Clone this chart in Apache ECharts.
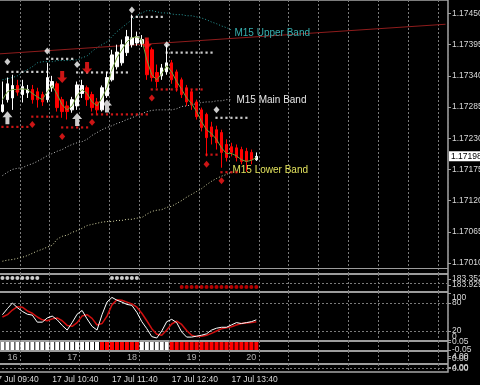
<!DOCTYPE html>
<html><head><meta charset="utf-8">
<script src="https://cdn.jsdelivr.net/npm/echarts@6/dist/echarts.min.js"></script>
<style>html,body{margin:0;padding:0;background:#000;}#c{width:480px;height:385px;}</style>
</head><body><div id="c"></div>
<script>
// ---------- data ----------
const FIRST = 2;            // slot index of first bar (17 Jul 09:50)
const SLOTS = 92;           // 5-minute slots on the time axis (incl. chart shift)
const slotTimes = [];
for (let k = 0; k < SLOTS; k++) {
  const m = 9 * 60 + 40 + 5 * k;
  slotTimes.push('17 Jul ' + String(Math.floor(m / 60)).padStart(2, '0') + ':' + String(m % 60).padStart(2, '0'));
}
const xTickLabels = ['17 Jul 09:40', '17 Jul 10:40', '17 Jul 11:40', '17 Jul 12:40', '17 Jul 13:40'];
const priceTicks = [1.17010, 1.17065, 1.17120, 1.17175, 1.17230, 1.17285, 1.17340, 1.17395, 1.17450];
const lastPrice = 1.17198;

// candles: [open, close, low, high]
const candles = [
[1.17277,1.17289,1.17275,1.17330],[1.17298,1.17326,1.17293,1.17337],[1.17301,1.17323,1.17280,1.17342],
[1.17323,1.17312,1.17305,1.17333],[1.17307,1.17321,1.17293,1.17333],[1.17310,1.17316,1.17301,1.17324],
[1.17316,1.17298,1.17291,1.17324],[1.17312,1.17298,1.17284,1.17319],[1.17307,1.17294,1.17287,1.17312],
[1.17298,1.17337,1.17293,1.17363],[1.17319,1.17330,1.17312,1.17340],[1.17326,1.17284,1.17277,1.17330],
[1.17298,1.17277,1.17266,1.17303],[1.17287,1.17277,1.17263,1.17295],[1.17280,1.17298,1.17275,1.17303],
[1.17287,1.17324,1.17280,1.17330],[1.17309,1.17323,1.17301,1.17333],[1.17319,1.17298,1.17287,1.17323],
[1.17307,1.17284,1.17277,1.17312],[1.17294,1.17280,1.17273,1.17301],[1.17280,1.17319,1.17277,1.17323],
[1.17305,1.17337,1.17301,1.17347],[1.17333,1.17377,1.17330,1.17386],[1.17356,1.17382,1.17351,1.17395],
[1.17363,1.17395,1.17358,1.17404],[1.17381,1.17409,1.17375,1.17421],[1.17395,1.17407,1.17390,1.17448],
[1.17398,1.17409,1.17393,1.17418],[1.17397,1.17404,1.17391,1.17412],[1.17400,1.17342,1.17333,1.17404],
[1.17386,1.17337,1.17330,1.17390],[1.17346,1.17330,1.17319,1.17360],[1.17340,1.17354,1.17333,1.17361],
[1.17347,1.17363,1.17342,1.17395],[1.17363,1.17333,1.17326,1.17368],[1.17347,1.17319,1.17312,1.17351],
[1.17333,1.17307,1.17301,1.17337],[1.17319,1.17294,1.17287,1.17324],[1.17312,1.17289,1.17280,1.17316],
[1.17294,1.17268,1.17263,1.17298],[1.17280,1.17249,1.17242,1.17284],[1.17272,1.17231,1.17198,1.17275],
[1.17250,1.17233,1.17219,1.17259],[1.17245,1.17222,1.17210,1.17252],[1.17240,1.17205,1.17178,1.17245],
[1.17219,1.17196,1.17189,1.17228],[1.17215,1.17205,1.17198,1.17222],[1.17213,1.17196,1.17189,1.17219],
[1.17210,1.17189,1.17184,1.17215],[1.17207,1.17189,1.17171,1.17213],[1.17205,1.17192,1.17184,1.17210],
[1.17192,1.17198,1.17190,1.17205]
];
const maLine = [1.17298,1.17312,1.17316,1.17316,1.17317,1.17316,1.17309,1.17303,1.17298,1.17312,1.17323,1.17307,
1.17289,1.17280,1.17287,1.17305,1.17316,1.17309,1.17294,1.17287,1.17301,1.17319,1.17351,1.17372,1.17386,1.17400,
1.17407,1.17409,1.17404,1.17368,1.17342,1.17333,1.17344,1.17358,1.17347,1.17330,1.17316,1.17301,1.17291,1.17277,
1.17259,1.17245,1.17238,1.17228,1.17213,1.17203,1.17203,1.17199,1.17192,1.17189,1.17191,1.17196];
const upperBand = [1.17333,1.17335,1.17337,1.17340,1.17346,1.17351,1.17356,1.17363,1.17365,1.17365,1.17365,1.17367,
1.17367,1.17367,1.17368,1.17368,1.17372,1.17375,1.17383,1.17390,1.17395,1.17400,1.17409,1.17418,1.17425,1.17432,
1.17439,1.17446,1.17451,1.17455,1.17455,1.17453,1.17451,1.17451,1.17449,1.17448,1.17448,1.17446,1.17446,1.17444,
1.17442,1.17439,1.17435,1.17432,1.17428,1.17425,1.17421];
const mainBand = [1.17164,1.17170,1.17175,1.17177,1.17178,1.17182,1.17185,1.17189,1.17194,1.17199,1.17203,1.17207,
1.17210,1.17215,1.17219,1.17222,1.17224,1.17228,1.17235,1.17240,1.17245,1.17249,1.17252,1.17256,1.17259,1.17263,
1.17266,1.17270,1.17273,1.17277,1.17279,1.17280,1.17280,1.17280,1.17280,1.17282,1.17286,1.17287,1.17289,1.17291,
1.17293,1.17294,1.17294,1.17296,1.17296,1.17298,1.17298];
const lowerBand = [1.17013,1.17015,1.17016,1.17018,1.17020,1.17023,1.17027,1.17031,1.17034,1.17038,1.17041,1.17052,
1.17057,1.17059,1.17064,1.17067,1.17071,1.17076,1.17078,1.17080,1.17082,1.17083,1.17083,1.17085,1.17085,1.17087,
1.17087,1.17089,1.17090,1.17096,1.17101,1.17103,1.17104,1.17108,1.17110,1.17115,1.17120,1.17126,1.17131,1.17136,
1.17141,1.17148,1.17154,1.17159,1.17163,1.17166,1.17171];
const trendLine = [[0, 1.17378], [SLOTS - 1, 1.17431]];   // [slot, price]

// horizontal levels: bar range, level price, marker price
const whiteLevels = [
  {from:1, to:9, price:1.17347, mark:1.17365}, {from:9, to:14, price:1.17370, mark:1.17384},
  {from:15, to:25, price:1.17346, mark:1.17360}, {from:26, to:32, price:1.17444, mark:1.17456},
  {from:33, to:42, price:1.17381, mark:1.17395}, {from:43, to:49, price:1.17266, mark:1.17280}
];
const redLevels = [
  {from:0, to:5, price:1.17250, mark:null}, {from:6, to:11, price:1.17268, mark:1.17254},
  {from:12, to:17, price:1.17249, mark:1.17233}, {from:18, to:29, price:1.17272, mark:1.17258},
  {from:30, to:40, price:1.17316, mark:1.17301}, {from:41, to:43, price:1.17201, mark:1.17184},
  {from:44, to:47, price:1.17170, mark:1.17155}
];
const upArrows = [[1, 1.17266], [15, 1.17263], [21, 1.17287]];
const downArrows = [[12, 1.17338], [17, 1.17354], [29, 1.17397]];
const smallDownArrows = [[3, 1.17314]];

// dots sub-window
const whiteDotBars = [0,1,2,3,4,5,6,7,22,23,24,25,26,27];
const redDotBars = [36,37,38,39,40,41,42,43,44,45,46,47,48,49,50,51];
const whiteDotValue = 183.256, redDotValue = 184.121;
const dotsTicksA = [183.352], dotsTicksB = [183.929];

// stochastic
const stochMain = [55,68,80,70,62,56,54,39,39,48,52,44,32,22,38,56,64,46,30,22,55,82,92,86,82,77,75,60,40,25,8,5,
20,40,45,38,18,7,7,9,11,14,22,26,28,28,33,38,36,38,40,44];
const stochSignal = [50,55,65,72,71,63,58,50,44,42,46,48,42,32,30,38,52,55,47,33,36,52,76,87,86,82,78,71,58,42,25,13,
11,22,35,41,34,21,11,8,9,11,15,20,25,27,29,33,36,37,38,40];
const stochTicksA = [20, 80], stochTicksB = [0, 100];
const stochLevels = [20, 80];

// block strip (W = up, R = down)
const blockState = 'WWWWWWWWWWWWWWWWWWWWRRRRRRRRWWWWWWRRRRRRRRRRRRRRRRRR';
const blockTicksA = [0.05], blockTicksB = [-0.05];

// hour counter strip
const hourLabels = ['16', '17', '18', '19', '20'];
const hourBars = [2, 14, 26, 38, 50];
const stripTicksA = [4], stripTicksB = [0];

// ---------- chart ----------
const FONT_AXIS = '"Liberation Sans",Arial,sans-serif';
const FONT_TEXT = '"Liberation Sans",Arial,sans-serif';
const TXT = '#d8d8d8';
const AX_FS = 8.5;
const GRIDLINE = {color: '#7a7a7a', type: [2, 2], width: 1};

const panels = [
  {top: 0, height: 274}, {top: 274, height: 18}, {top: 292, height: 49},
  {top: 341, height: 10}, {top: 351, height: 13}, {top: 364, height: 8}
];
const pad = (arr) => arr.map((v, i) => [i + FIRST, v]);
const expand = (levels) => {
  const out = [];
  levels.forEach(l => { for (let b = l.from; b <= l.to; b++) out.push([b + FIRST, l.price]); });
  return out;
};
const marks = (levels) => levels.filter(l => l.mark !== null).map(l => [l.from + FIRST, l.mark]);
const shift = (pts) => pts.map(p => [p[0] + FIRST, p[1]]);

function yAx(i, min, max, ticks, fmt, extra, labelExtra) {
  return Object.assign({
    type: 'value', gridIndex: i, position: 'right', min: min, max: max,
    axisLine: {show: false},
    axisTick: {show: true, length: 3, customValues: ticks, lineStyle: {color: '#a0a0a0'}},
    axisLabel: Object.assign({show: true, customValues: ticks, formatter: fmt, color: TXT, fontSize: AX_FS,
      fontFamily: FONT_AXIS, margin: 4, hideOverlap: false}, labelExtra || {}),
    splitLine: {show: false}
  }, extra || {});
}
const f2 = v => v.toFixed(2), f3 = v => v.toFixed(3), f5 = v => v.toFixed(5);
const stochFmt = v => v === 100 ? '{dn|100}' : (v === 0 ? '{up|0}' : String(v));
const stochRich = {rich: {
  dn: {padding: [8, 0, 0, 0], color: TXT, fontSize: AX_FS, fontFamily: FONT_AXIS},
  up: {padding: [0, 0, 8, 0], color: TXT, fontSize: AX_FS, fontFamily: FONT_AXIS}
}};

const option = {
  backgroundColor: '#000',
  animation: false,
  grid: panels.map(p => ({left: -10, right: 32, top: p.top, height: p.height, show: true,
    borderColor: '#a6a6a6', borderWidth: 1.5, containLabel: false, outerBoundsMode: 'none'})),
  xAxis: panels.map((p, i) => ({
    type: 'category', gridIndex: i, data: slotTimes, boundaryGap: true,
    axisLine: {show: false}, axisTick: {show: false},
    splitLine: {show: true, interval: 5, lineStyle: GRIDLINE},
    axisLabel: i === 5 ? {show: true, interval: (idx, val) => xTickLabels.includes(val),
      align: 'left', margin: 3, color: TXT, fontSize: AX_FS, fontFamily: FONT_AXIS} : {show: false}
  })),
  yAxis: [
    yAx(0, 1.169905, 1.174738, priceTicks, f5),                       // 0
    yAx(1, 182.871, 184.602, dotsTicksA, f3, {inverse: true}),        // 1
    yAx(2, -1.4, 103.6, stochTicksA, stochFmt, {}, stochRich),        // 2
    yAx(3, -0.0625, 0.0625, blockTicksA, f2),                         // 3
    yAx(4, -10, 14, stripTicksA, f2),                                 // 4
    yAx(5, -10, 14, stripTicksA, f2),                                 // 5
    yAx(0, 1.169905, 1.174738, [lastPrice], f5, {axisTick: {show: false}},
      {color: '#000', backgroundColor: '#ffffff', padding: [1, 3, 0, 2], margin: 1}),   // 6
    yAx(1, 182.871, 184.602, dotsTicksB, f3, {inverse: true}),        // 7
    yAx(2, -1.4, 103.6, stochTicksB, stochFmt, {}, stochRich),        // 8
    yAx(3, -0.0625, 0.0625, blockTicksB, f2),                         // 9
    yAx(4, -10, 14, stripTicksB, f2),                                 // 10
    yAx(5, -10, 14, stripTicksB, f2)                                  // 11
  ],
  series: [
    // bands
    {name: 'M15 Upper Band', type: 'line', xAxisIndex: 0, yAxisIndex: 0, data: pad(upperBand), showSymbol: false,
      lineStyle: {color: '#2a9d9d', width: 1, type: [1, 2]}, z: 2,
      endLabel: {show: true, formatter: '{a}', color: '#37b0b0', fontSize: 10, fontFamily: FONT_TEXT, distance: 3, offset: [0, 3]}},
    {name: 'M15 Main Band', type: 'line', xAxisIndex: 0, yAxisIndex: 0, data: pad(mainBand), showSymbol: false,
      lineStyle: {color: '#bdbdbd', width: 1, type: [1, 2]}, z: 2,
      endLabel: {show: true, formatter: '{a}', color: '#e6e6e6', fontSize: 10, fontFamily: FONT_TEXT, distance: 5, offset: [0, 1]}},
    {name: 'M15 Lower Band', type: 'line', xAxisIndex: 0, yAxisIndex: 0, data: pad(lowerBand), showSymbol: false,
      lineStyle: {color: '#d6d6a4', width: 1, type: [1, 2]}, z: 2,
      endLabel: {show: true, formatter: '{a}', color: '#e0e05c', fontSize: 10, fontFamily: FONT_TEXT, distance: 1, offset: [0, -1]}},
    // trend line
    {name: 'trend', type: 'line', xAxisIndex: 0, yAxisIndex: 0, data: trendLine, showSymbol: false,
      lineStyle: {color: '#8e1c1c', width: 1}, z: 2},
    // candles
    {name: 'price', type: 'candlestick', xAxisIndex: 0, yAxisIndex: 0, barWidth: 3,
      data: candles.map((c, i) => [i + FIRST, c[0], c[1], c[2], c[3]]),
      encode: {x: 0, y: [1, 2, 3, 4]},
      itemStyle: {color: '#ffffff', color0: '#ff0000', borderColor: '#ffffff', borderColor0: '#ff0000', borderWidth: 1},
      z: 3,
      markLine: {silent: true, symbol: ['none', 'none'], z: 1, animation: false,
        label: {show: false},
        data: priceTicks.map(v => ({yAxis: v, lineStyle: GRIDLINE}))}},
    // moving average (+ current price line)
    {name: 'ma', type: 'line', xAxisIndex: 0, yAxisIndex: 0, data: pad(maLine), showSymbol: false,
      lineStyle: {color: '#6f9e3a', width: 1}, z: 4,
      markLine: {silent: true, symbol: ['none', 'none'], z: 1, animation: false, label: {show: false},
        data: [{yAxis: lastPrice, lineStyle: {color: '#9c9c9c', type: 'solid', width: 1}}]}},
    // levels
    {type: 'scatter', xAxisIndex: 0, yAxisIndex: 0, data: expand(whiteLevels), symbol: 'rect', symbolSize: 2.2,
      itemStyle: {color: '#ffffff'}, z: 5},
    {type: 'scatter', xAxisIndex: 0, yAxisIndex: 0, data: marks(whiteLevels), symbol: 'diamond', symbolSize: [6, 7],
      itemStyle: {color: '#ffffff'}, z: 5},
    {type: 'scatter', xAxisIndex: 0, yAxisIndex: 0, data: expand(redLevels), symbol: 'rect', symbolSize: 2.2,
      itemStyle: {color: '#ff1a1a'}, z: 5},
    {type: 'scatter', xAxisIndex: 0, yAxisIndex: 0, data: marks(redLevels), symbol: 'diamond', symbolSize: [6, 7],
      itemStyle: {color: '#ff1a1a'}, z: 5},
    // arrows
    {type: 'scatter', xAxisIndex: 0, yAxisIndex: 0, data: shift(upArrows),
      symbol: 'path://M5 0 L10 6 L7 6 L7 13 L3 13 L3 6 L0 6 Z', symbolSize: [10, 13],
      itemStyle: {color: '#ffffff'}, z: 6},
    {type: 'scatter', xAxisIndex: 0, yAxisIndex: 0, data: shift(downArrows),
      symbol: 'path://M3 0 L7 0 L7 7 L10 7 L5 13 L0 7 L3 7 Z', symbolSize: [10, 12],
      itemStyle: {color: '#ff1a1a'}, z: 6},
    {type: 'scatter', xAxisIndex: 0, yAxisIndex: 0, data: shift(smallDownArrows),
      symbol: 'path://M3 0 L7 0 L7 7 L10 7 L5 13 L0 7 L3 7 Z', symbolSize: [5, 7],
      itemStyle: {color: '#ff1a1a'}, z: 6},

    // dots panel
    {type: 'scatter', xAxisIndex: 1, yAxisIndex: 1, data: whiteDotBars.map(b => [b + FIRST, whiteDotValue]),
      symbol: 'circle', symbolSize: 4, itemStyle: {color: '#ffffff'},
      markLine: {silent: true, symbol: ['none', 'none'], z: 1, label: {show: false},
        data: [{yAxis: 183.736, lineStyle: GRIDLINE}]}},
    {type: 'scatter', xAxisIndex: 1, yAxisIndex: 1, data: redDotBars.map(b => [b + FIRST, redDotValue]),
      symbol: 'circle', symbolSize: 4, itemStyle: {color: '#e00000'}},

    // stochastic
    {type: 'line', xAxisIndex: 2, yAxisIndex: 2, data: pad(stochMain), showSymbol: false,
      lineStyle: {color: '#ffffff', width: 1}, z: 3,
      markLine: {silent: true, symbol: ['none', 'none'], z: 1, label: {show: false},
        data: stochLevels.map(v => ({yAxis: v, lineStyle: GRIDLINE}))}},
    {type: 'line', xAxisIndex: 2, yAxisIndex: 2, data: pad(stochSignal), showSymbol: false,
      lineStyle: {color: '#d01010', width: 1.5}, z: 2},

    // blocks
    {type: 'bar', xAxisIndex: 3, yAxisIndex: 3, barWidth: 4, barGap: '-100%',
      data: blockState.split('').map((s, i) => ({value: [i + FIRST, 0.05], itemStyle: {color: s === 'W' ? '#ffffff' : '#ff0000'}}))},
    {type: 'bar', xAxisIndex: 3, yAxisIndex: 3, barWidth: 4, barGap: '-100%',
      data: blockState.split('').map((s, i) => ({value: [i + FIRST, -0.05], itemStyle: {color: s === 'W' ? '#ffffff' : '#ff0000'}}))},

    // hour labels
    {type: 'scatter', xAxisIndex: 4, yAxisIndex: 4, symbolSize: 0,
      data: hourBars.map((b, i) => ({value: [b + FIRST, 2], name: hourLabels[i]})),
      label: {show: true, position: 'inside', formatter: '{b}', color: TXT, fontSize: 9, fontFamily: FONT_AXIS}},

    // bottom strip
    {type: 'scatter', xAxisIndex: 5, yAxisIndex: 5, symbolSize: 0, data: [[FIRST, 2]],
      markLine: {silent: true, symbol: ['none', 'none'], z: 1, label: {show: false},
        data: [{yAxis: 2, lineStyle: GRIDLINE}]}}
  ]
};
const chart = echarts.init(document.getElementById('c'), null, {renderer: 'canvas'});
chart.setOption(option);
</script>
</body></html>
